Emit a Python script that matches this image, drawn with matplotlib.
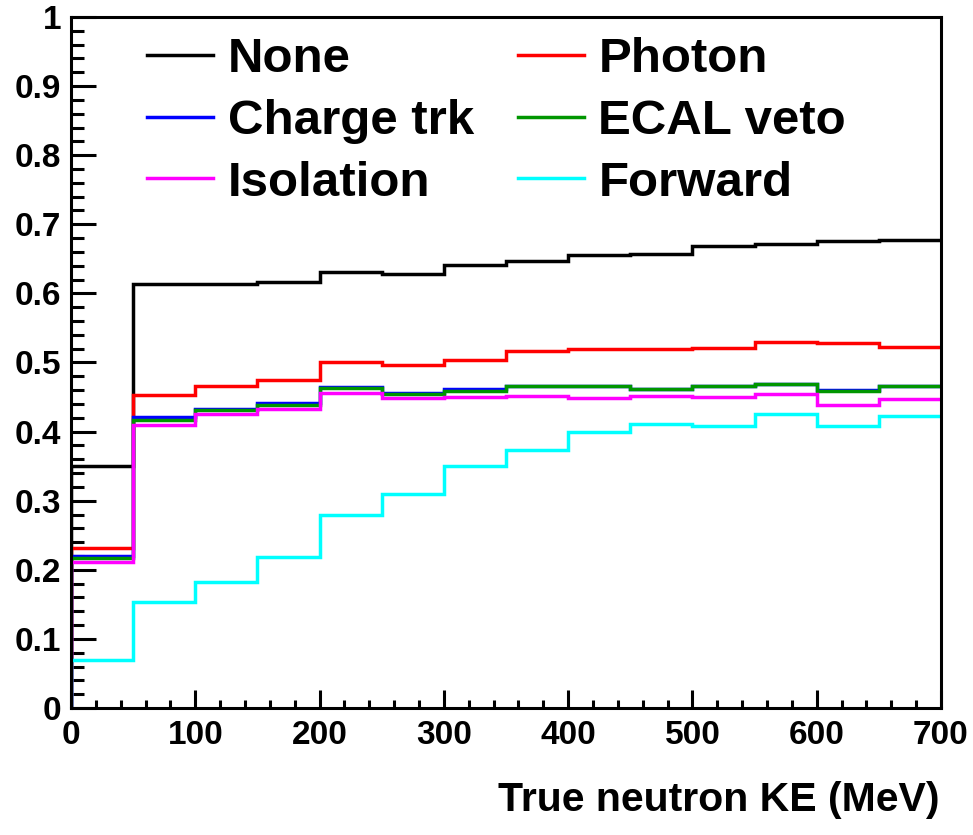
import numpy as np
import matplotlib
matplotlib.use("Agg")
import matplotlib.pyplot as plt
from matplotlib.ticker import MultipleLocator, FuncFormatter

# Bin edges of the kinetic-energy histogram (MeV)
bin_edges = np.arange(0, 701, 50)

# Efficiency per bin for each selection stage
eff_none = [0.350, 0.614, 0.614, 0.617, 0.631, 0.628, 0.641, 0.647, 0.656, 0.657,
            0.668, 0.672, 0.676, 0.677]
eff_photon = [0.231, 0.453, 0.466, 0.475, 0.501, 0.496, 0.504, 0.516, 0.519, 0.520,
              0.521, 0.529, 0.528, 0.523]
eff_charge = [0.220, 0.421, 0.432, 0.442, 0.464, 0.456, 0.462, 0.466, 0.466, 0.462,
              0.466, 0.469, 0.460, 0.466]
eff_ecal = [0.217, 0.417, 0.431, 0.439, 0.463, 0.455, 0.459, 0.466, 0.466, 0.462,
            0.466, 0.469, 0.459, 0.466]
eff_iso = [0.212, 0.410, 0.425, 0.432, 0.456, 0.448, 0.450, 0.452, 0.449, 0.452,
           0.450, 0.454, 0.439, 0.447]
eff_forward = [0.069, 0.153, 0.183, 0.219, 0.280, 0.310, 0.350, 0.374, 0.399, 0.411,
               0.408, 0.425, 0.408, 0.422]

series_labels = ["None", "Photon", "Charge trk", "ECAL veto", "Isolation", "Forward"]
series_values = [eff_none, eff_photon, eff_charge, eff_ecal, eff_iso, eff_forward]
series_colors = ["#000000", "#ff0000", "#0000ff", "#009600", "#ff00ff", "#00ffff"]

x_label = "True neutron KE (MeV)"

plt.rcParams["font.family"] = ["Liberation Sans", "DejaVu Sans"]
plt.rcParams["font.weight"] = "bold"

fig = plt.figure(figsize=(9.73, 8.35), dpi=100)
ax = fig.add_axes([71 / 973, 1 - 708 / 835, 870 / 973, 691 / 835])

handles = {}
for label, vals, color in zip(series_labels, series_values, series_colors):
    xs = np.concatenate([[bin_edges[0]], bin_edges])
    ys = np.concatenate([[0.0], vals, [vals[-1]]])
    (ln,) = ax.step(xs, ys, where="post", color=color, lw=2.5, solid_joinstyle="miter")
    handles[label] = ln

ax.set_xlim(0, 700)
ax.set_ylim(0, 1)

ax.xaxis.set_major_locator(MultipleLocator(100))
ax.xaxis.set_minor_locator(MultipleLocator(20))
ax.yaxis.set_major_locator(MultipleLocator(0.1))
ax.yaxis.set_minor_locator(MultipleLocator(0.02))
fmt = FuncFormatter(lambda v, p: f"{v:g}")
ax.xaxis.set_major_formatter(fmt)
ax.yaxis.set_major_formatter(fmt)

ax.tick_params(axis="both", which="both", direction="in", width=2.2,
               top=False, right=False, labelsize=24)
ax.tick_params(axis="y", which="major", length=18, pad=7)
ax.tick_params(axis="y", which="minor", length=9)
ax.tick_params(axis="x", which="major", length=13, pad=9)
ax.tick_params(axis="x", which="minor", length=6)
for lab in ax.get_xticklabels() + ax.get_yticklabels():
    lab.set_fontweight("bold")
for sp in ax.spines.values():
    sp.set_linewidth(2.2)

order = ["None", "Charge trk", "Isolation", "Photon", "ECAL veto", "Forward"]
leg = ax.legend([handles[k] for k in order], order, ncol=2, frameon=False,
                loc="upper left", bbox_to_anchor=(147 / 973, 1 - 37 / 835),
                bbox_transform=fig.transFigure,
                prop={"size": 35.5, "weight": "bold"},
                handlelength=1.34, handletextpad=0.3, columnspacing=0.88,
                labelspacing=0.34, borderpad=0.0, borderaxespad=0.0)
for ln in leg.get_lines():
    ln.set_linewidth(2.5)

fig.text(940 / 973, 1 - 800 / 835, x_label, ha="right", va="center",
         fontsize=29.5, fontweight="bold")

fig.savefig("out.png", dpi=100)
